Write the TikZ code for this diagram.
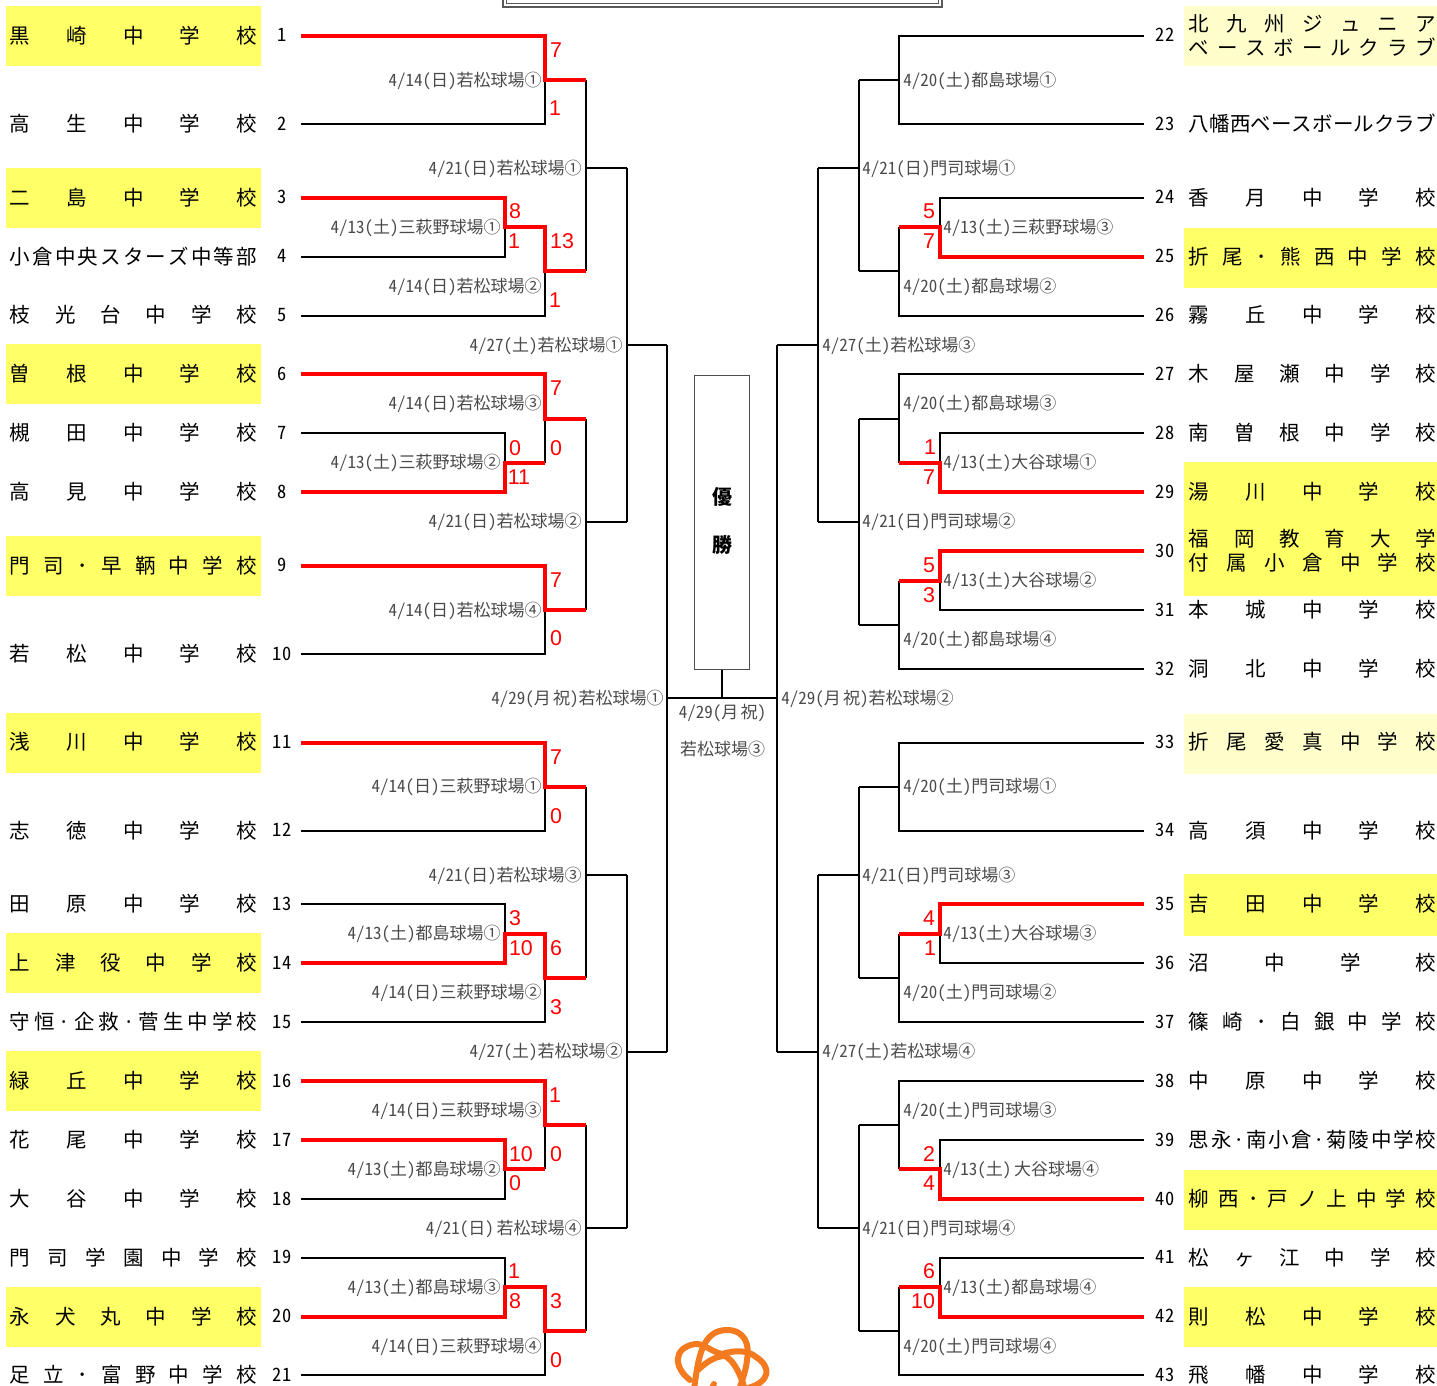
\documentclass[tikz,border=0pt]{standalone}
\usepackage{fontspec}
\setmainfont{Noto Sans CJK JP}
\newfontfamily\dfont{Noto Sans CJK JP}[RawFeature=+hwid]
\newfontfamily\sfont{Liberation Sans}
\definecolor{hiY}{HTML}{FFFF66}
\definecolor{hiP}{HTML}{FFFFCC}
\definecolor{dategray}{HTML}{4A4A4A}
\definecolor{logoO}{HTML}{F47A20}
\newcounter{nn}
\makeatletter
\newcommand\spreadit[1]{\def\spsep{\def\spsep{\hfil}}\makebox[123.6pt][s]{\@tfor\spch:=#1\do{\spsep\spch}}}
\makeatother
\newcommand\TM[3]{\stepcounter{nn}\node[teamtxt,right] (n\thenn) at (#1,#2) {\spreadit{#3}};}
\newcommand\NM[3]{\stepcounter{nn}\node[numtxt] (n\thenn) at (#1,#2) {#3};}
\newcommand\DR[3]{\stepcounter{nn}\node[datetxt,left] (n\thenn) at (#1,#2+1) {#3};}
\newcommand\DL[3]{\stepcounter{nn}\node[datetxt,right] (n\thenn) at (#1,#2+1) {#3};}
\newcommand\SC[3]{\stepcounter{nn}\node[scoretxt] (n\thenn) at (#1,#2) {#3};}
\newcommand\HL[3]{\fill[#1] (#2) rectangle (#3);}
\newcommand\gapA{\kern1.1pt}
\newcommand\gapB{\kern1.4pt}
\tikzset{
 teamtxt/.style={inner sep=0pt,font=\fontsize{10.25}{12}\selectfont,text=black},
 numtxt/.style={inner sep=0pt,font=\dfont\fontsize{9.2}{11}\selectfont,text=black},
 datetxt/.style={inner sep=0pt,font=\dfont\fontsize{8.5}{10}\selectfont,text=dategray},
 scoretxt/.style={inner sep=0pt,font=\sfont\fontsize{10.7}{12}\selectfont,text=red},
 thin line/.style={draw=black,line width=1.2pt},
 win line/.style={draw=red,line width=2.1pt},
 frame line/.style={draw=black!65,line width=0.9pt},
}
\begin{document}
\begin{tikzpicture}[x=0.5pt,y=-0.5pt]
\useasboundingbox (0,0) rectangle (1437,1386);
% highlights
\HL{hiY}{6,6}{261,66}\HL{hiY}{6,168}{261,228}\HL{hiY}{6,344}{261,404}\HL{hiY}{6,536}{261,596}
\HL{hiY}{6,713}{261,773}\HL{hiY}{6,933}{261,993}\HL{hiY}{6,1051}{261,1111}\HL{hiY}{6,1287}{261,1347}
\HL{hiP}{1184,6}{1437,66}\HL{hiY}{1184,228}{1437,288}\HL{hiY}{1184,462}{1437,596}
\HL{hiP}{1184,714}{1437,774}\HL{hiY}{1184,874}{1437,936}\HL{hiY}{1184,1170}{1437,1230}\HL{hiY}{1184,1287}{1437,1347}
% title frame
\draw[frame line,line width=1.2pt] (503,0) -- (503,7) -- (942,7) -- (942,0);
\draw[frame line] (506.5,0) -- (506.5,3.5) -- (938.5,3.5) -- (938.5,0);
% team ends
\foreach \i/\y in {1/36,2/124,3/198,4/257,5/316,6/374,7/433,8/492,9/566,10/654,11/743,12/831,13/904,14/963,15/1022,16/1081,17/1140,18/1199,19/1258,20/1317,21/1375}
 \coordinate (e\i) at (301,\y);
\foreach \i/\y in {22/36,23/124,24/198,25/257,26/316,27/374,28/433,29/492,30/551,31/610,32/669,33/743,34/831,35/904,36/963,37/1022,38/1081,39/1140,40/1199,41/1258,42/1317,43/1375}
 \coordinate (e\i) at (1144,\y);
% match points
\foreach \n/\x/\y in {a1/545/80,a2/505/227,a3/545/271,a4/545/419,a5/505/463,a6/545/610,a7/545/787,a8/505/934,a9/545/978,a10/545/1125,a11/505/1169,a12/505/1287,a13/545/1331,
 b1/586/168,b2/586/522,b3/586/875,b4/586/1228,c1/627/345,c2/627/1052,d1/667/698,
 x1/899/80,x2/940/227,x3/899/271,x4/899/419,x5/940/463,x6/940/581,x7/899/625,x8/899/787,x9/940/934,x10/899/978,x11/899/1125,x12/940/1169,x13/940/1287,x14/899/1331,
 y1/859/168,y2/859/522,y3/859/875,y4/859/1228,z1/818/345,z2/818/1052,w1/777/698,fin/722/698}
 \coordinate (\n) at (\x,\y);
% black connectors, left
\draw[thin line] (e2) -| (a1);
\draw[thin line] (e4) -| (a2);
\draw[thin line] (e5) -| (a3);
\draw[thin line] (e7) -| (a5);
\draw[thin line] (a5 -| a4) -- (a4);
\draw[thin line] (e10) -| (a6);
\draw[thin line] (e12) -| (a7);
\draw[thin line] (e13) -| (a8);
\draw[thin line] (e15) -| (a9);
\draw[thin line] (a11 -| a10) -- (a10);
\draw[thin line] (e18) -| (a11);
\draw[thin line] (e19) -| (a12);
\draw[thin line] (e21) -| (a13);
% black connectors, upper rounds, left
\draw[thin line] (a1 -| b1) |- (b1) -- (b1 |- a3);
\draw[thin line] (b1) -- (b1 -| c1);
\draw[thin line] (a4 -| b2) -- (a6 -| b2);
\draw[thin line] (b2) -- (b2 -| c1);
\draw[thin line] (a7 -| b3) -- (a9 -| b3);
\draw[thin line] (b3) -- (b3 -| c2);
\draw[thin line] (a10 -| b4) -- (a13 -| b4);
\draw[thin line] (b4) -- (b4 -| c2);
\draw[thin line] (b1 -| c1) -- (b2 -| c1);
\draw[thin line] (c1) -- (c1 -| d1);
\draw[thin line] (b3 -| c2) -- (b4 -| c2);
\draw[thin line] (c2) -- (c2 -| d1);
\draw[thin line] (c1 -| d1) -- (c2 -| d1);
% final
\draw[thin line] (d1) -- (w1);
% black connectors, right
\draw[thin line] (e22) -| (x1);
\draw[thin line] (e23) -| (x1);
\draw[thin line] (x1) -- (x1 -| y1);
\draw[thin line] (e24) -| (x2);
\draw[thin line] (e26) -| (x3);
\draw[thin line] (x2 -| x3) -- (x3);
\draw[thin line] (x3) -- (x3 -| y1);
\draw[thin line] (x1 -| y1) -- (x3 -| y1);
\draw[thin line] (y1) -- (y1 -| z1);
\draw[thin line] (e27) -| (x4);
\draw[thin line] (e28) -| (x5);
\draw[thin line] (x5 -| x4) -- (x4);
\draw[thin line] (x4) -- (x4 -| y2);
\draw[thin line] (e31) -| (x6);
\draw[thin line] (e32) -| (x7);
\draw[thin line] (x6 -| x7) -- (x7);
\draw[thin line] (x7) -- (x7 -| y2);
\draw[thin line] (x4 -| y2) -- (x7 -| y2);
\draw[thin line] (y2) -- (y2 -| z1);
\draw[thin line] (y1 -| z1) -- (y2 -| z1);
\draw[thin line] (z1) -- (z1 -| w1);
\draw[thin line] (e33) -| (x8);
\draw[thin line] (e34) -| (x8);
\draw[thin line] (x8) -- (x8 -| y3);
\draw[thin line] (e36) -| (x9);
\draw[thin line] (e37) -| (x10);
\draw[thin line] (x9 -| x10) -- (x10);
\draw[thin line] (x10) -- (x10 -| y3);
\draw[thin line] (x8 -| y3) -- (x10 -| y3);
\draw[thin line] (y3) -- (y3 -| z2);
\draw[thin line] (e38) -| (x11);
\draw[thin line] (x12 -| x11) -- (x11);
\draw[thin line] (e39) -| (x12);
\draw[thin line] (x11) -- (x11 -| y4);
\draw[thin line] (e41) -| (x13);
\draw[thin line] (e43) -| (x14);
\draw[thin line] (x13 -| x14) -- (x14);
\draw[thin line] (x14) -- (x14 -| y4);
\draw[thin line] (x11 -| y4) -- (x14 -| y4);
\draw[thin line] (y4) -- (y4 -| z2);
\draw[thin line] (y3 -| z2) -- (y4 -| z2);
\draw[thin line] (z2) -- (z2 -| w1);
\draw[thin line] (z1 -| w1) -- (z2 -| w1);
% winners, left
\draw[win line] (e1) -| (a1) -- (a1 -| b1);
\draw[win line] (e3) -| (a2) -- (a2 -| a3) -- (a3) -- (a3 -| b1);
\draw[win line] (e6) -| (a4) -- (a4 -| b2);
\draw[win line] (e8) -| (a5) -- (a5 -| a4);
\draw[win line] (e9) -| (a6) -- (a6 -| b2);
\draw[win line] (e11) -| (a7) -- (a7 -| b3);
\draw[win line] (e14) -| (a8) -- (a8 -| a9) -- (a9) -- (a9 -| b3);
\draw[win line] (e16) -| (a10) -- (a10 -| b4);
\draw[win line] (e17) -| (a11) -- (a11 -| a10);
\draw[win line] (e20) -| (a12) -- (a12 -| a13) -- (a13) -- (a13 -| b4);
% winners, right
\draw[win line] (e25) -| (x2) -- (x2 -| x3);
\draw[win line] (e29) -| (x5) -- (x5 -| x4);
\draw[win line] (e30) -| (x6) -- (x6 -| x7);
\draw[win line] (e35) -| (x9) -- (x9 -| x10);
\draw[win line] (e40) -| (x12) -- (x12 -| x11);
\draw[win line] (e42) -| (x13) -- (x13 -| x14);
% final box
\node[draw=black!70,line width=0.5pt,fill=white,minimum width=27.5pt,minimum height=147pt,inner sep=0pt] (champ) at (722,522) {};
\draw[thin line] (champ.south -| fin) -- (fin);
\node[font=\bfseries\fontsize{10}{12}\selectfont,inner sep=0pt] (yu) at (722.5,497) {優};
\node[font=\bfseries\fontsize{10}{12}\selectfont,inner sep=0pt] (sho) at (722.5,545) {勝};
\node[datetxt] (fd) at (722.5,713) {4/29(月\gapA 祝)};
\node[datetxt] (fv) at (722.5,749) {若松球場③};
% teams left
\TM{9.5}{36}{黒崎中学校}\TM{9.5}{124}{高生中学校}\TM{9.5}{198}{二島中学校}\TM{9.5}{257}{小倉中央スターズ中等部}\TM{9.5}{315}{枝光台中学校}\TM{9.5}{374}{曽根中学校}\TM{9.5}{433}{槻田中学校}\TM{9.5}{492}{高見中学校}\TM{9.5}{566}{門司･早鞆中学校}\TM{9.5}{654}{若松中学校}\TM{9.5}{742}{浅川中学校}\TM{9.5}{831}{志徳中学校}\TM{9.5}{904}{田原中学校}\TM{9.5}{963}{上津役中学校}\TM{9.5}{1022}{守恒·企救·菅生中学校}\TM{9.5}{1081}{緑丘中学校}\TM{9.5}{1140}{花尾中学校}\TM{9.5}{1199}{大谷中学校}\TM{9.5}{1258}{門司学園中学校}\TM{9.5}{1317}{永犬丸中学校}\TM{9.5}{1375}{足立･富野中学校}
% teams right
\TM{1188.5}{24}{北九州ジュニア}\TM{1188.5}{47}{ベースボールクラブ}\TM{1188.5}{124}{八幡西ベースボールクラブ}\TM{1188.5}{198}{香月中学校}\TM{1188.5}{257}{折尾･熊西中学校}\TM{1188.5}{315}{霧丘中学校}\TM{1188.5}{374}{木屋瀬中学校}\TM{1188.5}{433}{南曽根中学校}\TM{1188.5}{492}{湯川中学校}\TM{1188.5}{539}{福岡教育大学}\TM{1188.5}{563}{付属小倉中学校}\TM{1188.5}{610}{本城中学校}\TM{1188.5}{669}{洞北中学校}\TM{1188.5}{742}{折尾愛真中学校}\TM{1188.5}{831}{高須中学校}\TM{1188.5}{904}{吉田中学校}\TM{1188.5}{963}{沼中学校}\TM{1188.5}{1022}{篠崎･白銀中学校}\TM{1188.5}{1081}{中原中学校}\TM{1188.5}{1140}{思永·南小倉·菊陵中学校}\TM{1188.5}{1199}{柳西･戸ノ上中学校}\TM{1188.5}{1258}{松ヶ江中学校}\TM{1188.5}{1317}{則松中学校}\TM{1188.5}{1375}{飛幡中学校}
% numbers
\foreach \i/\y in {1/35,2/124,3/197,4/256,5/315,6/374,7/433,8/492,9/565,10/654,11/742,12/830,13/904,14/963,15/1022,16/1081,17/1140,18/1199,19/1257,20/1316,21/1375}
 {\NM{282}{\y}{\i}}
\foreach \i/\y in {22/35,23/124,24/197,25/256,26/315,27/374,28/433,29/492,30/551,31/610,32/669,33/742,34/830,35/904,36/963,37/1022,38/1081,39/1140,40/1199,41/1257,42/1316,43/1375}
 {\NM{1165}{\y}{\i}}
% date labels, left
\DR{542}{80}{4/14(日)若松球場①}\DR{582}{168}{4/21(日)若松球場①}\DR{501}{227}{4/13(土)三萩野球場①}\DR{542}{286}{4/14(日)若松球場②}\DR{623}{345}{4/27(土)若松球場①}\DR{542}{403}{4/14(日)若松球場③}\DR{501}{462}{4/13(土)三萩野球場②}\DR{582}{521}{4/21(日)若松球場②}\DR{542}{610}{4/14(日)若松球場④}\DR{664}{698}{4/29(月\gapA 祝)若松球場①}\DR{542}{786}{4/14(日)三萩野球場①}\DR{582}{875}{4/21(日)若松球場③}\DR{501}{933}{4/13(土)都島球場①}\DR{542}{992}{4/14(日)三萩野球場②}\DR{623}{1051}{4/27(土)若松球場②}\DR{542}{1110}{4/14(日)三萩野球場③}\DR{501}{1169}{4/13(土)都島球場②}\DR{582}{1228}{4/21(日)\gapB 若松球場④}\DR{501}{1287}{4/13(土)都島球場③}\DR{542}{1346}{4/14(日)三萩野球場④}
% date labels, right
\DL{903}{80}{4/20(土)都島球場①}\DL{862}{168}{4/21(日)門司球場①}\DL{943}{227}{4/13(土)三萩野球場③}\DL{903}{286}{4/20(土)都島球場②}\DL{822}{345}{4/27(土)若松球場③}\DL{903}{403}{4/20(土)都島球場③}\DL{943}{462}{4/13(土)大谷球場①}\DL{862}{521}{4/21(日)門司球場②}\DL{943}{580}{4/13(土)大谷球場②}\DL{903}{639}{4/20(土)都島球場④}\DL{781}{698}{4/29(月\gapA 祝)若松球場②}\DL{903}{786}{4/20(土)門司球場①}\DL{862}{875}{4/21(日)門司球場③}\DL{943}{933}{4/13(土)大谷球場③}\DL{903}{992}{4/20(土)門司球場②}\DL{822}{1051}{4/27(土)若松球場④}\DL{903}{1110}{4/20(土)門司球場③}\DL{943}{1169}{4/13(土)\gapB 大谷球場④}\DL{862}{1228}{4/21(日)門司球場④}\DL{943}{1287}{4/13(土)都島球場④}\DL{903}{1346}{4/20(土)門司球場④}
% scores
\SC{556}{50}{7}\SC{555}{108}{1}\SC{515}{211}{8}\SC{514}{241}{1}\SC{562}{241}{13}\SC{555}{300}{1}\SC{556}{388}{7}\SC{556}{448}{0}\SC{515}{448}{0}\SC{519}{477}{11}\SC{556}{580}{7}\SC{556}{638}{0}\SC{556}{757}{7}\SC{556}{816}{0}\SC{515}{918}{3}\SC{521}{948}{10}\SC{556}{948}{6}\SC{556}{1007}{3}\SC{555}{1095}{1}\SC{521}{1154}{10}\SC{556}{1154}{0}\SC{515}{1183}{0}\SC{514}{1271}{1}\SC{515}{1301}{8}\SC{556}{1301}{3}\SC{556}{1360}{0}
\SC{929}{211}{5}\SC{929}{241}{7}\SC{930}{447}{1}\SC{929}{477}{7}\SC{929}{565}{5}\SC{929}{595}{3}\SC{929}{918}{4}\SC{930}{948}{1}\SC{929}{1154}{2}\SC{929}{1183}{4}\SC{929}{1271}{6}\SC{923}{1301}{10}
% logo (cut by the page bottom)
\begin{scope}[draw=logoO,line width=3pt,line cap=round,line join=round]
\clip (600,1300) rectangle (840,1386);
\draw (694,1390) .. controls (698,1358) and (702,1330) .. (727,1330) .. controls (745,1330) and (750,1345) .. (747,1360) .. controls (746,1370) and (743,1378) .. (739,1390);
\draw (690,1380) .. controls (674,1368) and (672,1348) .. (695,1344) .. controls (703,1343) and (712,1352) .. (722,1354) .. controls (735,1350) and (748,1350) .. (756,1357) .. controls (772,1367) and (770,1382) .. (748,1388);
\draw (698,1370) .. controls (706,1362) and (716,1356) .. (725,1356) .. controls (733,1360) and (740,1372) .. (745,1390);
\draw (711,1390) -- (714,1384);
\end{scope}
\end{tikzpicture}
\end{document}
